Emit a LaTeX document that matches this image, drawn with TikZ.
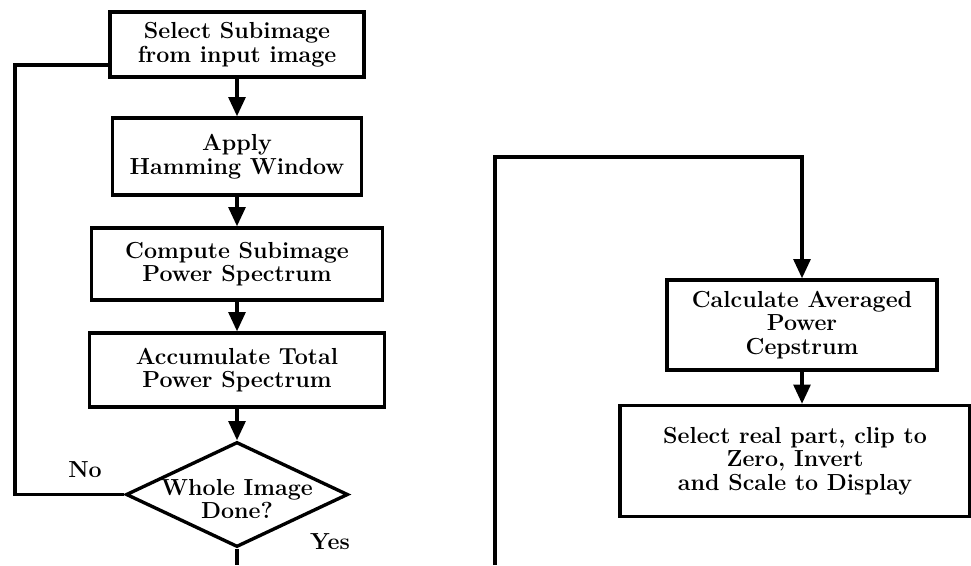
\documentclass[tikz,border=0pt]{standalone}
\usetikzlibrary{arrows.meta,shapes.geometric}

\begin{document}
\begin{tikzpicture}[x=0.025cm,y=-0.025cm,
    every node/.style={font=\fontsize{16.5}{16.8}\selectfont\bfseries, align=center},
    blk/.style={draw, line width=2.4pt, rectangle, inner sep=0pt},
    decision/.style={draw, line width=2.4pt, diamond, inner sep=0pt},
    line/.style={line width=2.4pt},
    flow/.style={line width=2.4pt, -{Triangle[width=0.42cm,length=0.48cm]}}]
\useasboundingbox (0,0) rectangle (971,565);

% left column
\node[blk, minimum width=6.35cm, minimum height=1.625cm] (sel) at (237,44.5) {Select Subimage\\from input image};
\node[blk, minimum width=6.225cm, minimum height=1.925cm] (ham) at (237,156.5) {Apply\\Hamming Window};
\node[blk, minimum width=7.275cm, minimum height=1.8cm] (comp) at (237,264) {Compute Subimage\\Power Spectrum};
\node[blk, minimum width=7.375cm, minimum height=1.85cm] (accu) at (237,370) {Accumulate Total\\Power Spectrum};
\node[decision, minimum width=5.55cm, minimum height=2.625cm] (done) at (237,494.5) {};
\node (donetxt) at (237,499) {Whole Image\\Done?};
\node (nolbl) at (85,470) {No};
\node (yeslbl) at (330,542) {Yes};

\draw[flow] (sel.south) -- (ham.north);
\draw[flow] (ham.south) -- (comp.north);
\draw[flow] (comp.south) -- (accu.north);
\draw[flow] (accu.south) -- (done.north);

\coordinate (noturn) at (15,65);
\draw[line] (done.west) -| (noturn) -- (noturn -| sel.west);
\coordinate (yesend) at (237,565);
\draw[line] (done.south) -- (yesend);

% right column
\node[blk, minimum width=6.75cm, minimum height=2.25cm] (cep) at (802,325) {Calculate Averaged\\Power\\Cepstrum};
\node[blk, minimum width=8.75cm, minimum height=2.775cm] (real) at (795,461) {Select real part, clip to\\Zero, Invert\\ and Scale to Display};

\coordinate (contin) at (495,565);
\coordinate (contop) at (495,157);
\draw[flow] (contin) -- (contop) -| (cep.north);
\draw[flow] (cep.south) -- (cep.south |- real.north);
\end{tikzpicture}
\end{document}
